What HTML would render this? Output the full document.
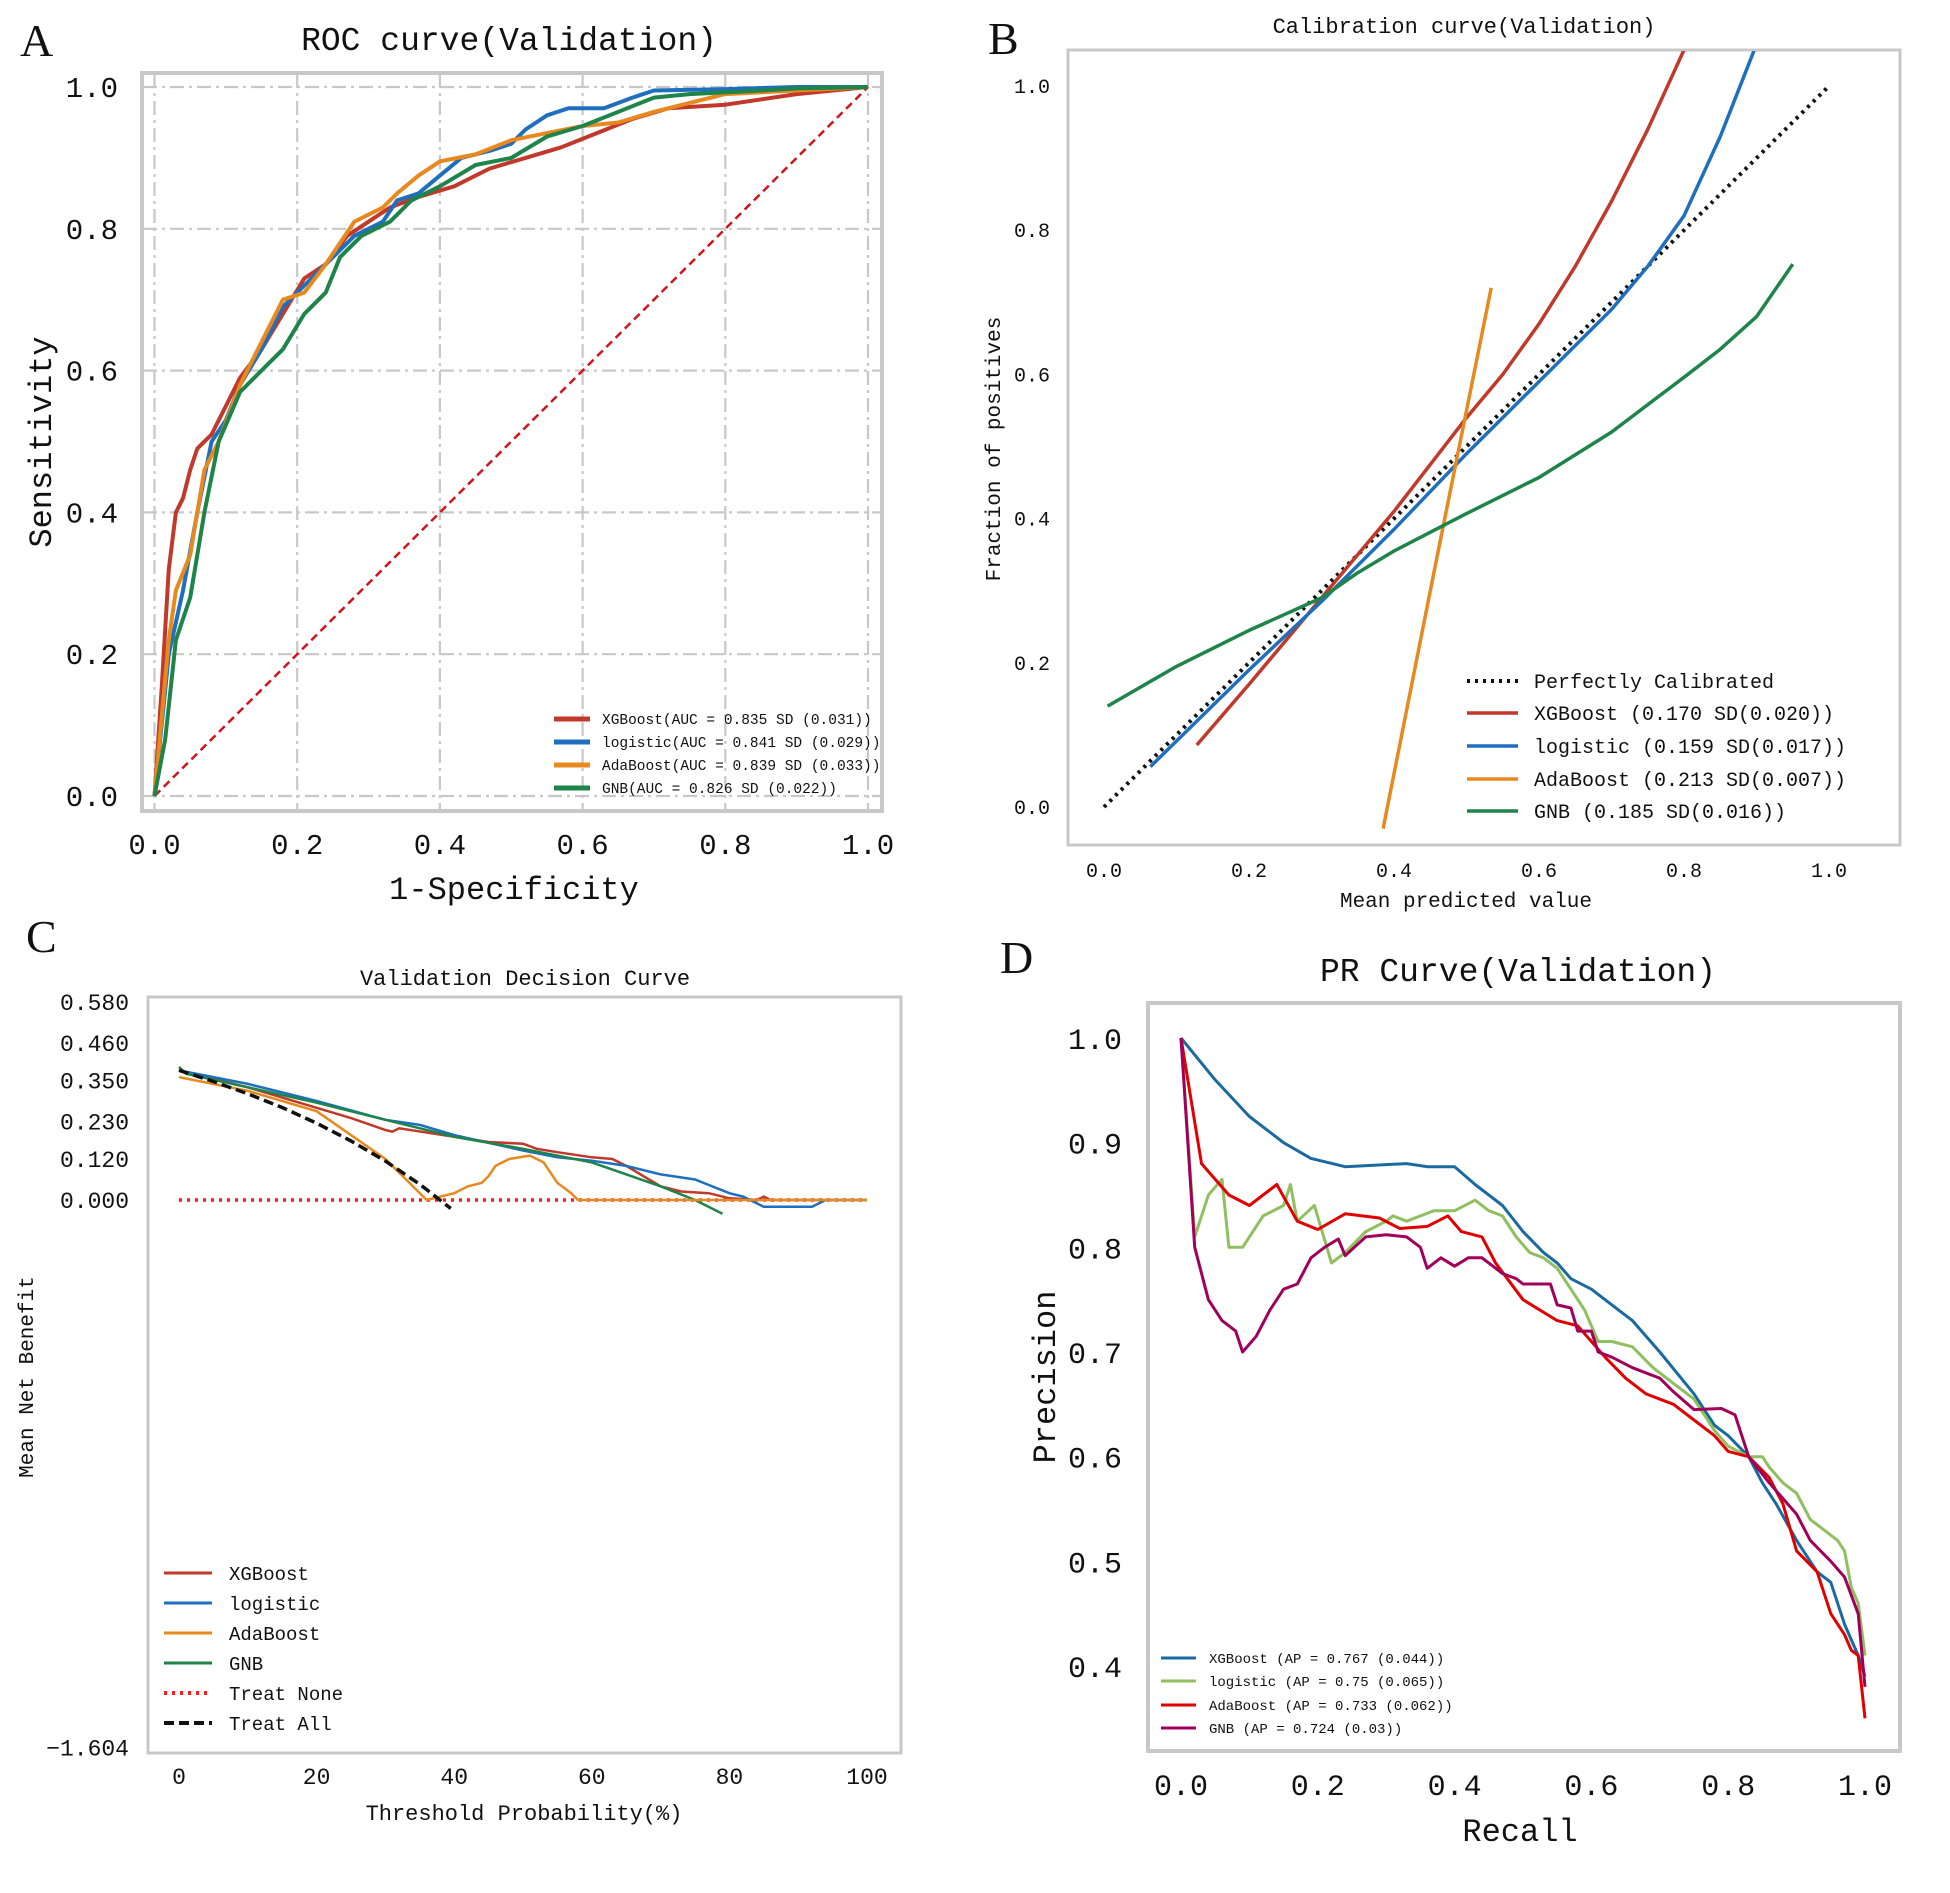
<!DOCTYPE html>
<html><head><meta charset="utf-8">
<style>
html,body{margin:0;padding:0;background:#fff;}
svg{display:block;}
text{font-family:"Liberation Mono","WenQuanYi Zen Hei",monospace;fill:#111;}
.lbl{font-family:"Liberation Serif",serif;}
</style></head>
<body>
<svg id="fig" width="1950" height="1893" viewBox="0 0 1950 1893" xmlns="http://www.w3.org/2000/svg">
<text class="lbl" x="20" y="56" font-size="46">A</text>
<text class="lbl" x="988" y="54" font-size="46">B</text>
<text class="lbl" x="26" y="952" font-size="46">C</text>
<text class="lbl" x="1000" y="973" font-size="46">D</text>
</svg>
<script>
// ===== Panel A: ROC data =====
const rocNames = ["XGBoost(AUC = 0.835 SD (0.031))","logistic(AUC = 0.841 SD (0.029))","AdaBoost(AUC = 0.839 SD (0.033))","GNB(AUC = 0.826 SD (0.022))"];
const rocXgbX = [0,0.01,0.02,0.03,0.04,0.05,0.06,0.08,0.1,0.12,0.15,0.18,0.21,0.24,0.27,0.3,0.33,0.37,0.42,0.47,0.52,0.57,0.62,0.67,0.72,0.8,0.9,1];
const rocXgbY = [0,0.15,0.32,0.4,0.42,0.46,0.49,0.51,0.55,0.59,0.63,0.68,0.73,0.75,0.79,0.81,0.83,0.845,0.86,0.885,0.9,0.915,0.935,0.955,0.97,0.975,0.99,1];
const rocLogX = [0,0.02,0.04,0.06,0.08,0.1,0.12,0.15,0.18,0.21,0.25,0.28,0.32,0.34,0.37,0.4,0.43,0.47,0.5,0.52,0.55,0.58,0.63,0.67,0.7,0.8,0.9,1];
const rocLogY = [0,0.2,0.29,0.4,0.5,0.53,0.58,0.63,0.69,0.72,0.76,0.79,0.81,0.84,0.85,0.875,0.9,0.91,0.92,0.94,0.96,0.97,0.97,0.985,0.995,0.997,1,1];
const rocAdaX = [0,0.02,0.03,0.05,0.07,0.09,0.12,0.15,0.18,0.21,0.24,0.28,0.32,0.34,0.37,0.4,0.45,0.5,0.55,0.6,0.65,0.7,0.74,0.8,0.9,1];
const rocAdaY = [0,0.22,0.29,0.34,0.46,0.5,0.58,0.64,0.7,0.71,0.75,0.81,0.83,0.85,0.875,0.895,0.905,0.925,0.935,0.945,0.95,0.965,0.975,0.99,0.995,1];
const rocGnbX = [0,0.015,0.03,0.05,0.07,0.09,0.12,0.15,0.18,0.21,0.24,0.26,0.29,0.33,0.36,0.4,0.45,0.5,0.55,0.6,0.65,0.7,0.75,0.85,0.9,1];
const rocGnbY = [0,0.08,0.22,0.28,0.4,0.5,0.57,0.6,0.63,0.68,0.71,0.76,0.79,0.81,0.84,0.86,0.89,0.9,0.93,0.945,0.965,0.985,0.99,0.995,0.998,1];
const rocTicks = ["0.0","0.2","0.4","0.6","0.8","1.0"];

// ===== Panel B: Calibration data =====
const calNames = ["XGBoost (0.170 SD(0.020))","logistic (0.159 SD(0.017))","AdaBoost (0.213 SD(0.007))","GNB (0.185 SD(0.016))"];
const calXgbX = [0.128,0.2,0.3,0.4,0.5,0.55,0.6,0.65,0.7,0.75,0.8];
const calXgbY = [0.086,0.17,0.29,0.41,0.54,0.6,0.67,0.75,0.84,0.94,1.05];
const calLogX = [0.064,0.2,0.3,0.4,0.5,0.6,0.7,0.75,0.8,0.85,0.897];
const calLogY = [0.056,0.19,0.285,0.385,0.49,0.59,0.69,0.75,0.82,0.93,1.05];
const calAdaX = [0.385,0.46,0.534];
const calAdaY = [-0.03,0.35,0.72];
const calGnbX = [0.005,0.1,0.2,0.3,0.35,0.4,0.5,0.6,0.7,0.8,0.85,0.9,0.95];
const calGnbY = [0.14,0.195,0.245,0.29,0.325,0.355,0.407,0.457,0.52,0.596,0.635,0.68,0.753];
const calPerfX = [0,1];
const calPerfY = [0,1];

// ===== Panel C: Decision curve data =====
const dcaNames = ["XGBoost","logistic","AdaBoost","GNB","Treat None","Treat All"];
const dcaYTicks = [0.58,0.46,0.35,0.23,0.12,0.0,-1.604];
const dcaYTickLabels = ["0.580","0.460","0.350","0.230","0.120","0.000","\u22121.604"];
const dcaXTicks = [0,20,40,60,80,100];
const dcaXgbX = [0,10,20,25,30,31,32,40,45,50,52,55,60,63,65,70,73,77,80,84,85,86,100];
const dcaXgbY = [0.38,0.33,0.27,0.24,0.205,0.2,0.21,0.185,0.17,0.165,0.15,0.14,0.125,0.12,0.1,0.04,0.025,0.02,0.005,0.0,0.01,0,0];
const dcaLogX = [0,10,20,30,35,40,50,55,60,65,70,75,80,82,85,90,92,94,100];
const dcaLogY = [0.38,0.34,0.29,0.235,0.22,0.19,0.145,0.125,0.115,0.1,0.075,0.06,0.02,0.01,-0.02,-0.02,-0.02,0,0];
const dcaAdaX = [0,10,20,30,36,40,42,44,45,46,48,51,53,55,57,58,100];
const dcaAdaY = [0.36,0.32,0.26,0.12,0,0.02,0.04,0.05,0.07,0.1,0.12,0.13,0.11,0.05,0.02,0,0];
const dcaGnbX = [0,1,10,20,30,40,50,60,70,75,79];
const dcaGnbY = [0.39,0.37,0.33,0.285,0.235,0.185,0.15,0.11,0.04,0.0,-0.04];
const dcaNoneX = [0,100];
const dcaNoneY = [0,0];
const dcaAllX = [0,5,10,15,20,25,30,35,39.5];
const dcaAllY = [0.38,0.347,0.311,0.271,0.225,0.173,0.114,0.046,-0.025];

// ===== Panel D: PR data =====
const prNames = ["XGBoost (AP = 0.767  (0.044))","logistic (AP = 0.75  (0.065))","AdaBoost (AP = 0.733  (0.062))","GNB (AP = 0.724  (0.03))"];
const prXgbX = [0,0.05,0.1,0.15,0.19,0.24,0.33,0.36,0.4,0.43,0.47,0.5,0.53,0.55,0.57,0.6,0.63,0.66,0.7,0.75,0.78,0.8,0.83,0.85,0.87,0.9,0.93,0.95,0.97,0.99,1.0];
const prXgbY = [1.0,0.96,0.925,0.9,0.885,0.877,0.88,0.877,0.877,0.86,0.84,0.815,0.795,0.785,0.77,0.76,0.745,0.73,0.7,0.66,0.63,0.62,0.6,0.575,0.555,0.52,0.49,0.48,0.44,0.41,0.39];
const prLogX = [0,0.02,0.04,0.06,0.07,0.09,0.12,0.15,0.16,0.17,0.195,0.22,0.24,0.27,0.3,0.31,0.33,0.35,0.37,0.4,0.43,0.45,0.47,0.49,0.51,0.53,0.55,0.57,0.59,0.61,0.63,0.66,0.69,0.72,0.75,0.78,0.8,0.83,0.85,0.86,0.88,0.9,0.92,0.94,0.96,0.97,0.98,0.99,1.0];
const prLogY = [1.0,0.81,0.85,0.865,0.8,0.8,0.83,0.84,0.86,0.825,0.84,0.785,0.795,0.815,0.825,0.83,0.825,0.83,0.835,0.835,0.845,0.835,0.83,0.81,0.795,0.79,0.78,0.76,0.74,0.71,0.71,0.705,0.685,0.67,0.655,0.625,0.61,0.6,0.6,0.59,0.575,0.565,0.54,0.53,0.52,0.51,0.475,0.46,0.41];
const prAdaX = [0,0.03,0.07,0.1,0.14,0.17,0.2,0.24,0.29,0.32,0.36,0.39,0.41,0.44,0.46,0.5,0.55,0.58,0.62,0.65,0.68,0.72,0.75,0.78,0.8,0.83,0.86,0.88,0.9,0.93,0.95,0.97,0.98,0.99,1.0];
const prAdaY = [1.0,0.88,0.85,0.84,0.86,0.825,0.817,0.832,0.828,0.818,0.82,0.83,0.815,0.81,0.785,0.75,0.73,0.725,0.695,0.675,0.66,0.65,0.635,0.62,0.605,0.6,0.58,0.555,0.51,0.49,0.45,0.43,0.415,0.41,0.35];
const prGnbX = [0,0.02,0.04,0.06,0.08,0.09,0.11,0.13,0.15,0.17,0.19,0.21,0.23,0.24,0.27,0.3,0.33,0.35,0.36,0.38,0.4,0.42,0.44,0.47,0.49,0.5,0.54,0.55,0.57,0.58,0.6,0.61,0.63,0.66,0.7,0.72,0.75,0.79,0.81,0.83,0.86,0.88,0.9,0.92,0.95,0.97,0.99,1.0];
const prGnbY = [1.0,0.8,0.75,0.73,0.72,0.7,0.715,0.74,0.76,0.765,0.79,0.8,0.808,0.792,0.81,0.812,0.81,0.8,0.78,0.79,0.782,0.79,0.79,0.775,0.77,0.765,0.765,0.745,0.742,0.72,0.72,0.7,0.695,0.685,0.675,0.662,0.645,0.646,0.64,0.6,0.575,0.56,0.545,0.52,0.5,0.485,0.45,0.38];
const prXTicks = [0,0.2,0.4,0.6,0.8,1.0];
const prYTicks = [1.0,0.9,0.8,0.7,0.6,0.5,0.4];

const NS = "http://www.w3.org/2000/svg";
const svg = document.getElementById("fig");
function mk(tag, attrs, parent){
  const e = document.createElementNS(NS, tag);
  for (const k in attrs) e.setAttribute(k, attrs[k]);
  (parent||svg).appendChild(e);
  return e;
}
function lin(d0,d1,r0,r1){ return v => r0 + (v-d0)*(r1-r0)/(d1-d0); }
function pathD(xs, ys, sx, sy){
  return xs.map((x,i)=>(i?"L":"M")+sx(x).toFixed(1)+","+sy(ys[i]).toFixed(1)).join(" ");
}
function txt(x,y,s,size,anchor,parent){
  const t = mk("text",{x:x,y:y,"font-size":size,"text-anchor":anchor||"start"},parent);
  t.textContent = s;
  return t;
}

// ---------- Panel A ----------
(function(){
  const g = mk("g",{});
  
  
  const sx = lin(0,1,154.5,868), sy = lin(0,1,796,87);
  const grid = [0,0.2,0.4,0.6,0.8,1.0];
  grid.forEach((v,i)=>{
    const h = mk("line",{x1:143,x2:881,y1:sy(v),y2:sy(v),stroke:"#c8c8c8","stroke-width":2.2,"stroke-dasharray":"14,5,3,5"},g);
    
    
    const vl = mk("line",{y1:74,y2:810,x1:sx(v),x2:sx(v),stroke:"#c8c8c8","stroke-width":2.2,"stroke-dasharray":"14,5,3,5"},g);
    
    
    const ty = txt(118,sy(v)+10,rocTicks[i],29,"end",g);
    
    
    const tx = txt(sx(v),854,rocTicks[i],29,"middle",g);
    
    
  });
  const fr = mk("rect",{x:142,y:73,width:740,height:738,fill:"none",stroke:"#c8c8c8","stroke-width":4},g);
  
  
  const diag = mk("line",{x1:sx(0),y1:sy(0),x2:sx(1),y2:sy(1),stroke:"#d0141c","stroke-width":2.5,"stroke-dasharray":"8,5"},g);
  
  
  const cols = ["#c0392b","#1f6fbf","#e8891f","#1e8449"];
  const series = [[rocXgbX,rocXgbY],[rocLogX,rocLogY],[rocAdaX,rocAdaY],[rocGnbX,rocGnbY]];
  const names = ['roc-line-xgboost','roc-line-logistic','roc-line-adaboost','roc-line-gnb'];
  series.forEach((s,i)=>{
    const p = mk("path",{d:pathD(s[0],s[1],sx,sy),fill:"none",stroke:cols[i],"stroke-width":4,"stroke-linejoin":"round"},g);
    
    
  });
  const ly = [719,742,765,788];
  rocNames.forEach((n,i)=>{
    const l = mk("line",{x1:554,x2:590,y1:ly[i],y2:ly[i],stroke:cols[i],"stroke-width":5},g);
    
    
    const t = txt(602,ly[i]+5,n,14.5,"start",g);
    
    
  });
  const tt = txt(509,50,"ROC curve(Validation)",33,"middle",g);
  
  
  const xl = txt(514,899,"1-Specificity",32,"middle",g);
  
  
  const yl = txt(0,0,"Sensitivity",32,"middle",g);
  yl.setAttribute("transform","translate(51,442) rotate(-90)");
  
  
})();

// ---------- Panel B ----------
(function(){
  const g = mk("g",{});
  
  
  const sx = lin(0,1,1104,1829), sy = lin(0,1,807,86);
  const cp = mk("clipPath",{id:"cpB"},g);
  mk("rect",{x:1069,y:51,width:830,height:793},cp);
  const fr = mk("rect",{x:1068,y:50,width:832,height:795,fill:"none",stroke:"#c8c8c8","stroke-width":3},g);
  
  
  const ticks = [0,0.2,0.4,0.6,0.8,1.0];
  const tl = ["0.0","0.2","0.4","0.6","0.8","1.0"];
  ticks.forEach((v,i)=>{
    const ty = txt(1050,sy(v)+7,tl[i],20,"end",g);
    
    
    const tx = txt(sx(v),877,tl[i],20,"middle",g);
    
    
  });
  const pg = mk("g",{"clip-path":"url(#cpB)"},g);
  const perf = mk("path",{d:pathD(calPerfX,calPerfY,sx,sy),fill:"none",stroke:"#111","stroke-width":4,"stroke-dasharray":"3,5"},pg);
  
  
  const cols = ["#c0392b","#1f6fbf","#e8891f","#1e8449"];
  const series = [[calXgbX,calXgbY],[calLogX,calLogY],[calAdaX,calAdaY],[calGnbX,calGnbY]];
  const names = ['calibration-line-xgboost','calibration-line-logistic','calibration-line-adaboost','calibration-line-gnb'];
  series.forEach((s,i)=>{
    const p = mk("path",{d:pathD(s[0],s[1],sx,sy),fill:"none",stroke:cols[i],"stroke-width":3.5,"stroke-linejoin":"round"},pg);
    
    
  });
  const ly = [681,713,746,779,811];
  const lnames = ["Perfectly Calibrated"].concat(calNames);
  const lcols = ["#111"].concat(cols);
  lnames.forEach((n,i)=>{
    const l = mk("line",{x1:1467,x2:1518,y1:ly[i],y2:ly[i],stroke:lcols[i],"stroke-width":i?3.5:4,"stroke-dasharray":i?"none":"3,5"},g);
    
    
    const t = txt(1534,ly[i]+7,n,20,"start",g);
    
    
  });
  const tt = txt(1464,33,"Calibration curve(Validation)",22,"middle",g);
  
  
  const xl = txt(1466,907,"Mean predicted value",21,"middle",g);
  
  
  const yl = txt(0,0,"Fraction of positives",21,"middle",g);
  yl.setAttribute("transform","translate(1000,449) rotate(-90)");
  
  
})();

// ---------- Panel C ----------
(function(){
  const g = mk("g",{});
  
  
  const sx = lin(0,100,179,867), sy = lin(0,0.58,1200,1002);
  const fr = mk("rect",{x:148,y:997,width:753,height:756,fill:"none",stroke:"#c8c8c8","stroke-width":3},g);
  
  
  dcaYTicks.forEach((v,i)=>{
    const t = txt(129,sy(v)+8,dcaYTickLabels[i],23,"end",g);
    
    
  });
  dcaXTicks.forEach(v=>{
    const t = txt(sx(v),1784,String(v),23,"middle",g);
    
    
  });
  const cols = ["#c0392b","#1f6fbf","#e8891f","#1e8449","#ff1a1a","#111"];
  const series = [[dcaXgbX,dcaXgbY],[dcaLogX,dcaLogY],[dcaAdaX,dcaAdaY],[dcaGnbX,dcaGnbY],[dcaNoneX,dcaNoneY],[dcaAllX,dcaAllY]];
  const dash = ["none","none","none","none","3,5","10,5"];
  const widths = [2.5,2.5,2.5,2.5,3.5,3.5];
  const names = ['decision-line-xgboost','decision-line-logistic','decision-line-adaboost','decision-line-gnb','decision-line-treat-none','decision-line-treat-all'];
  [4,0,1,3,2,5].forEach(i=>{
    const s = series[i];
    const p = mk("path",{d:pathD(s[0],s[1],sx,sy),fill:"none",stroke:cols[i],"stroke-width":widths[i],"stroke-dasharray":dash[i]},g);
    
    
  });
  const ly = [1573,1603,1633,1663,1693,1723];
  dcaNames.forEach((n,i)=>{
    const l = mk("line",{x1:164,x2:212,y1:ly[i],y2:ly[i],stroke:cols[i],"stroke-width":widths[i]+0.5,"stroke-dasharray":dash[i]},g);
    
    
    const t = txt(229,ly[i]+7,n,19,"start",g);
    
    
  });
  const tt = txt(525,985,"Validation Decision Curve",22,"middle",g);
  
  
  const xl = txt(524,1820,"Threshold Probability(%)",22,"middle",g);
  
  
  const yl = txt(0,0,"Mean Net Benefit",21,"middle",g);
  yl.setAttribute("transform","translate(33,1377) rotate(-90)");
  
  
})();

// ---------- Panel D ----------
(function(){
  const g = mk("g",{});
  
  
  const sx = lin(0,1,1181,1865), sy = lin(0.4,1.0,1666,1038);
  const fr = mk("rect",{x:1148,y:1003,width:752,height:748,fill:"none",stroke:"#c8c8c8","stroke-width":4},g);
  
  
  prYTicks.forEach(v=>{
    const t = txt(1122,sy(v)+11,v.toFixed(1),30,"end",g);
    
    
  });
  prXTicks.forEach(v=>{
    const t = txt(sx(v),1795,v.toFixed(1),30,"middle",g);
    
    
  });
  const cols = ["#1a6aa0","#8fbf5f","#e00000","#a0005a"];
  const series = [[prXgbX,prXgbY],[prLogX,prLogY],[prAdaX,prAdaY],[prGnbX,prGnbY]];
  const names = ['pr-line-xgboost','pr-line-logistic','pr-line-adaboost','pr-line-gnb'];
  series.forEach((s,i)=>{
    const p = mk("path",{d:pathD(s[0],s[1],sx,sy),fill:"none",stroke:cols[i],"stroke-width":3,"stroke-linejoin":"round"},g);
    
    
  });
  const ly = [1658,1681,1705,1728];
  prNames.forEach((n,i)=>{
    const l = mk("line",{x1:1161,x2:1196,y1:ly[i],y2:ly[i],stroke:cols[i],"stroke-width":3},g);
    
    
    const t = txt(1209,ly[i]+5,n,14,"start",g);
    
    
  });
  const tt = txt(1518,981,"PR Curve(Validation)",33,"middle",g);
  
  
  const xl = txt(1520,1841,"Recall",32,"middle",g);
  
  
  const yl = txt(0,0,"Precision",32,"middle",g);
  yl.setAttribute("transform","translate(1055,1377) rotate(-90)");
  
  
})();
</script>
</body></html>
